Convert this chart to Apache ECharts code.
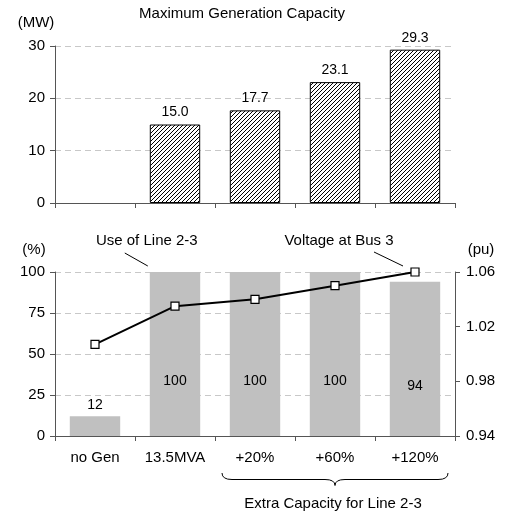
<!DOCTYPE html>
<html><head><meta charset="utf-8">
<script src="https://cdn.jsdelivr.net/npm/echarts/dist/echarts.min.js"></script>
<style>html,body{margin:0;padding:0;background:#fff}#c{width:508px;height:514px}</style>
</head><body><div id="c"></div>
<script>
// ---- data ----
const categories = ['no Gen', '13.5MVA', '+20%', '+60%', '+120%'];
const maxGenMW = ['-', 15.0, 17.7, 23.1, 29.3];
const lineUsePct = [12, 100, 100, 100, 94];
const busVoltagePu = [1.007, 1.035, 1.040, 1.050, 1.060];

const FONT = '"Liberation Sans", Arial, sans-serif';
const AXIS = '#555';
const GRIDC = '#c8c8c8';

// hatch pattern
const tile = document.createElement('canvas');
tile.width = 4; tile.height = 4;
(function(){
  const g = tile.getContext('2d');
  g.fillStyle = '#fff'; g.fillRect(0,0,4,4);
  g.strokeStyle = '#000'; g.lineWidth = 1.0;
  g.beginPath();
  g.moveTo(-1,5); g.lineTo(5,-1);
  g.moveTo(-1,1); g.lineTo(1,-1);
  g.moveTo(3,5); g.lineTo(5,3);
  g.stroke();
})();

const chart = echarts.init(document.getElementById('c'), null, {renderer: 'canvas'});

const xBase = (gi) => ({
  type: 'category', gridIndex: gi, data: categories, boundaryGap: true,
  axisLine: {show: true, lineStyle: {color: AXIS, width: 1}},
  axisTick: {show: true, length: 5, lineStyle: {color: AXIS}},
  axisLabel: gi === 0 ? {show: false} : {show: true, color: '#000', fontSize: 15, fontFamily: FONT, margin: 14},
  splitLine: {show: false}
});
const yBase = (gi, min, max, interval) => ({
  type: 'value', gridIndex: gi, min, max, interval,
  axisLine: {show: true, lineStyle: {color: AXIS, width: 1}},
  axisTick: {show: true, length: 5, lineStyle: {color: AXIS}},
  axisLabel: {color: '#000', fontSize: 15, fontFamily: FONT, margin: 10},
  splitLine: {show: true, lineStyle: {color: GRIDC, type: [6, 4], width: 1}}
});

const usedData = lineUsePct.map(v => v > 50
  ? {value: v, label: {position: 'inside', offset: [0, 27]}}
  : {value: v, label: {position: 'top', distance: 4}});

chart.setOption({
  animation: false,
  backgroundColor: '#fff',
  grid: [
    {left: 55, right: 53, top: 46, height: 157},
    {left: 55, right: 53, top: 272, height: 164}
  ],
  xAxis: [xBase(0), xBase(1)],
  yAxis: [
    yBase(0, 0, 30, 10),
    yBase(1, 0, 100, 25),
    Object.assign(yBase(1, 0.94, 1.06, 0.04), {
      position: 'right',
      splitLine: {show: false},
      axisLabel: {color: '#000', fontSize: 15, fontFamily: FONT, margin: 11,
        formatter: v => v.toFixed(2)}
    })
  ],
  series: [
    {
      type: 'bar', xAxisIndex: 0, yAxisIndex: 0, data: maxGenMW, barWidth: '63%',
      itemStyle: {color: {image: tile, repeat: 'repeat'}, borderColor: '#000', borderWidth: 1},
      label: {show: true, position: 'top', distance: 5, color: '#000', fontSize: 14, fontFamily: FONT,
        formatter: p => (typeof p.value === 'number' ? p.value.toFixed(1) : '')}
    },
    {
      type: 'bar', xAxisIndex: 1, yAxisIndex: 1, data: usedData, barWidth: '63%',
      itemStyle: {color: '#c0c0c0'},
      label: {show: true, color: '#000', fontSize: 14, fontFamily: FONT}
    },
    {
      type: 'line', xAxisIndex: 1, yAxisIndex: 2, data: busVoltagePu,
      symbol: 'rect', symbolSize: 8,
      lineStyle: {color: '#000', width: 2},
      itemStyle: {color: '#fff', borderColor: '#000', borderWidth: 1.2},
      z: 5
    }
  ]
});

// ---- annotations positioned from the axes ----
const px = (i, v, yi) => chart.convertToPixel({xAxisIndex: 1, yAxisIndex: yi}, [i, v]);
const c0 = px(0, 0, 1), c1 = px(1, 0, 1);
const catW = c1[0] - c0[0];
const barHalf = catW * 0.63 / 2;
const top100 = px(1, 100, 1)[1];
const uEnd = [c1[0] - barHalf - 2, top100 - 6];
const uStart = [uEnd[0] - 23, uEnd[1] - 13];
const vp = px(4, busVoltagePu[4], 2);
const vEnd = [vp[0] - 12, vp[1] - 6];
const vStart = [vEnd[0] - 29, vEnd[1] - 14];
const base = c0[1];
const bl = px(2, 0, 1)[0] - catW / 2 + 7;
const br = px(4, 0, 1)[0] + catW / 2 - 7;
const bm = px(3, 0, 1)[0];
const y0 = base + 37, y1 = base + 43.5, y2 = base + 49.5;

const txt = (x, y, s, align) => ({
  type: 'text', x, y, silent: true,
  style: {text: s, fill: '#000', font: '15px ' + FONT, textAlign: align || 'center', textVerticalAlign: 'middle'}
});
const ln = (a, b) => ({type: 'line', silent: true, shape: {x1: a[0], y1: a[1], x2: b[0], y2: b[1]},
  style: {stroke: '#000', lineWidth: 1}});
const qc = (a, c, b) => ({type: 'bezierCurve', silent: true,
  shape: {x1: a[0], y1: a[1], cpx1: c[0], cpy1: c[1], x2: b[0], y2: b[1]},
  style: {stroke: '#000', fill: null, lineWidth: 1}});

chart.setOption({
  graphic: [
    txt(242, 14, 'Maximum Generation Capacity'),
    txt(36, 23, '(MW)'),
    txt(34, 250, '(%)'),
    txt(481, 250, '(pu)'),
    txt(uEnd[0] - 1, uEnd[1] - 25, 'Use of Line 2-3'),
    ln(uStart, uEnd),
    txt(vEnd[0] - 64, vEnd[1] - 25, 'Voltage at Bus 3'),
    ln(vStart, vEnd),
    qc([bl, y0], [bl, y1], [bl + 10, y1]),
    ln([bl + 10, y1], [bm - 10, y1]),
    qc([bm - 10, y1], [bm, y1], [bm, y2]),
    qc([bm, y2], [bm, y1], [bm + 10, y1]),
    ln([bm + 10, y1], [br - 10, y1]),
    qc([br - 10, y1], [br, y1], [br, y0]),
    txt(bm - 2, base + 68, 'Extra Capacity for Line 2-3')
  ]
});
</script>
</body></html>
